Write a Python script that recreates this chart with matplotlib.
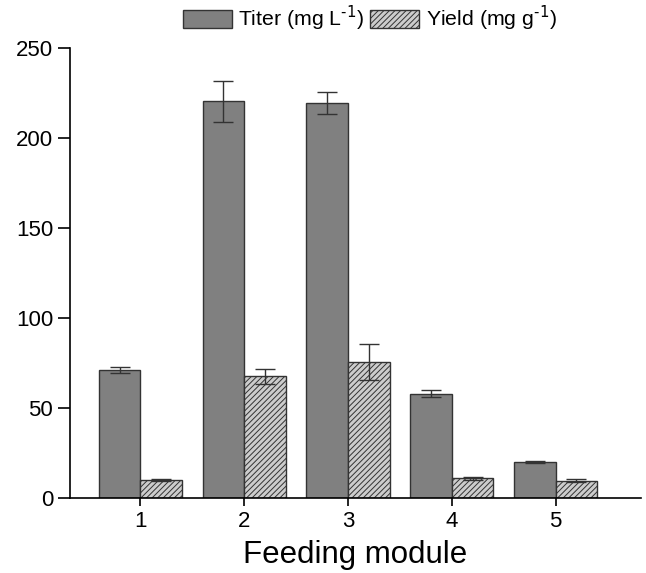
import numpy as np
import matplotlib.pyplot as plt

plt.rcParams['font.family'] = ['Liberation Sans', 'DejaVu Sans']
plt.rcParams['hatch.linewidth'] = 0.7

modules = [1, 2, 3, 4, 5]
titer = [71, 220.5, 219.5, 58, 20]
titer_err = [1.5, 11.5, 6, 2, 0.5]
yield_vals = [10, 67.5, 75.5, 11, 9.5]
yield_err = [0.8, 4, 10, 0.8, 0.8]

fig = plt.figure(figsize=(6.46, 5.73), dpi=100)
ax = fig.add_axes([0.108, 0.131, 0.884, 0.785])

x = np.array(modules)
w = 0.4
ekw = dict(ecolor='#333333', elinewidth=1, capsize=7, capthick=1)
ax.bar(x - w / 2, titer, w, color='#808080', edgecolor='#333333', linewidth=1.0,
       yerr=titer_err, error_kw=ekw, label='Titer (mg L$^{\\text{-1}}$)')
ax.bar(x + w / 2, yield_vals, w, color='#cccccc', edgecolor='#333333', linewidth=1.0,
       hatch='//////', yerr=yield_err, error_kw=ekw,
       label='Yield (mg g$^{\\text{-1}}$)')

ax.set_xlim(0.32, 5.82)
ax.set_ylim(0, 250)
ax.set_yticks([0, 50, 100, 150, 200, 250])
ax.set_xticks(modules)
ax.tick_params(axis='both', labelsize=16, direction='out', width=1.2)
ax.tick_params(axis='y', length=9, pad=3)
ax.tick_params(axis='x', length=6)
ax.spines['top'].set_visible(False)
ax.spines['right'].set_visible(False)
ax.spines['left'].set_linewidth(1.2)
ax.spines['bottom'].set_linewidth(1.2)
ax.set_xlabel('Feeding module', fontsize=22.5, labelpad=6)

ax.legend(loc='lower center', bbox_to_anchor=(0.525, 1.0), ncol=2, frameon=False,
          fontsize=15.3, handlelength=2.3, handleheight=0.9, columnspacing=0.3,
          handletextpad=0.3, borderaxespad=0.3)

fig.savefig('out.png', dpi=100)
